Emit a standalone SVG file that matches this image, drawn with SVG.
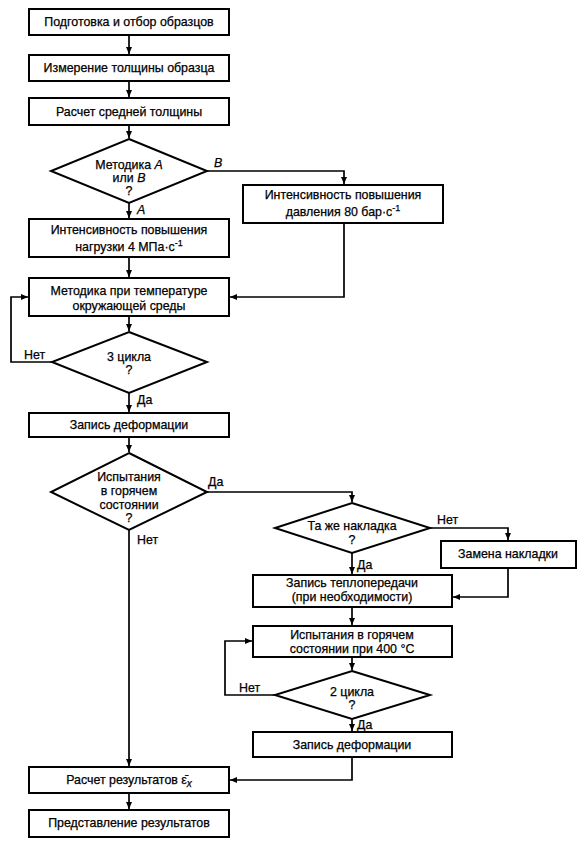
<svg xmlns="http://www.w3.org/2000/svg" width="586" height="844" viewBox="0 0 586 844">
<style>
.b{fill:#fff;stroke:#000;stroke-width:2}
.t{font-family:"Liberation Sans",Arial,sans-serif;font-size:12.4px;fill:#000;stroke:#000;stroke-width:0.25;text-anchor:middle}
.l{font-family:"Liberation Sans",Arial,sans-serif;font-size:12.4px;fill:#000;stroke:#000;stroke-width:0.25}
.c{fill:none;stroke:#000;stroke-width:1.7}
.i{font-style:italic}
</style>
<defs>
<marker id="a" markerUnits="userSpaceOnUse" markerWidth="8" markerHeight="6" refX="7" refY="3" orient="auto">
<path d="M0,0 L7,3 L0,6 z" fill="#000"/>
</marker>
</defs>
<rect width="586" height="844" fill="#fff"/>
<g id="connectors">
<path class="c" d="M129,35 V54" marker-end="url(#a)"/>
<path class="c" d="M129,81 V97" marker-end="url(#a)"/>
<path class="c" d="M129,125 V138" marker-end="url(#a)"/>
<path class="c" d="M129,203 V218" marker-end="url(#a)"/>
<path class="c" d="M207,171 H344 V184" marker-end="url(#a)"/>
<path class="c" d="M344,223 V297 H230" marker-end="url(#a)"/>
<path class="c" d="M129,257 V277" marker-end="url(#a)"/>
<path class="c" d="M129,316 V331" marker-end="url(#a)"/>
<path class="c" d="M52,362 H11 V297 H28" marker-end="url(#a)"/>
<path class="c" d="M129,393 V412" marker-end="url(#a)"/>
<path class="c" d="M129,437 V452" marker-end="url(#a)"/>
<path class="c" d="M207,492 H352 V502" marker-end="url(#a)"/>
<path class="c" d="M129,530 V766" marker-end="url(#a)"/>
<path class="c" d="M430,528 H508 V540" marker-end="url(#a)"/>
<path class="c" d="M508,568 V597 H453" marker-end="url(#a)"/>
<path class="c" d="M352,553 V574" marker-end="url(#a)"/>
<path class="c" d="M352,607 V625" marker-end="url(#a)"/>
<path class="c" d="M352,657 V670" marker-end="url(#a)"/>
<path class="c" d="M275,695 H225 V641 H252" marker-end="url(#a)"/>
<path class="c" d="M352,719 V731" marker-end="url(#a)"/>
<path class="c" d="M352,757 V780 H230" marker-end="url(#a)"/>
<path class="c" d="M129,793 V809" marker-end="url(#a)"/>
</g>
<g id="labels">
<text class="l i" x="214" y="167">B</text>
<text class="l i" x="137" y="214">A</text>
<text class="l" x="24" y="359">Нет</text>
<text class="l" x="137" y="404">Да</text>
<text class="l" x="208" y="486">Да</text>
<text class="l" x="137" y="544">Нет</text>
<text class="l" x="437" y="524">Нет</text>
<text class="l" x="357" y="569">Да</text>
<text class="l" x="239" y="692">Нет</text>
<text class="l" x="357" y="729">Да</text>
</g>
<g id="n1"><rect class="b" x="29" y="9" width="200" height="26"/><text class="t" x="129" y="26">Подготовка и отбор образцов</text></g>
<g id="n2"><rect class="b" x="29" y="55" width="200" height="26"/><text class="t" x="129" y="72">Измерение толщины образца</text></g>
<g id="n3"><rect class="b" x="29" y="98" width="200" height="27"/><text class="t" x="129" y="116">Расчет средней толщины</text></g>
<g id="d1"><polygon class="b" points="129,139 207,171 129,203 51,171"/>
<text class="t" x="129" y="169">Методика <tspan class="i">A</tspan></text>
<text class="t" x="129" y="182">или <tspan class="i">B</tspan></text>
<text class="t" x="129" y="195">?</text></g>
<g id="n4"><rect class="b" x="29" y="219" width="200" height="38"/>
<text class="t" x="129" y="234">Интенсивность повышения</text>
<text class="t" x="129" y="251">нагрузки 4 МПа·с<tspan font-size="9" dy="-5">-1</tspan></text></g>
<g id="n5"><rect class="b" x="243" y="185" width="200" height="38"/>
<text class="t" x="343" y="199">Интенсивность повышения</text>
<text class="t" x="343" y="216">давления 80 бар·с<tspan font-size="9" dy="-5">-1</tspan></text></g>
<g id="n6"><rect class="b" x="29" y="278" width="200" height="38"/>
<text class="t" x="129" y="295">Методика при температуре</text>
<text class="t" x="129" y="310">окружающей среды</text></g>
<g id="d2"><polygon class="b" points="129,332 207,362 129,393 52,362"/>
<text class="t" x="129" y="361">3 цикла</text>
<text class="t" x="129" y="374">?</text></g>
<g id="n7"><rect class="b" x="29" y="413" width="200" height="24"/><text class="t" x="129" y="429">Запись деформации</text></g>
<g id="d3"><polygon class="b" points="129,453 207,492 129,530 51,492"/>
<text class="t" x="129" y="481">Испытания</text>
<text class="t" x="129" y="495">в горячем</text>
<text class="t" x="129" y="509">состоянии</text>
<text class="t" x="129" y="522">?</text></g>
<g id="d4"><polygon class="b" points="352,503 430,528 352,553 275,528"/>
<text class="t" x="352" y="530">Та же накладка</text>
<text class="t" x="352" y="544">?</text></g>
<g id="n8"><rect class="b" x="441" y="541" width="135" height="27"/><text class="t" x="508" y="558">Замена накладки</text></g>
<g id="n9"><rect class="b" x="253" y="575" width="199" height="32"/>
<text class="t" x="352" y="587">Запись теплопередачи</text>
<text class="t" x="352" y="601">(при необходимости)</text></g>
<g id="n10"><rect class="b" x="253" y="626" width="199" height="31"/>
<text class="t" x="352" y="639">Испытания в горячем</text>
<text class="t" x="352" y="653">состоянии при 400 °C</text></g>
<g id="d5"><polygon class="b" points="352,671 430,695 352,719 275,695"/>
<text class="t" x="352" y="696">2 цикла</text>
<text class="t" x="352" y="709">?</text></g>
<g id="n11"><rect class="b" x="253" y="732" width="199" height="25"/><text class="t" x="352" y="749">Запись деформации</text></g>
<g id="n12"><rect class="b" x="29" y="767" width="200" height="26"/><text class="t" x="129" y="784">Расчет результатов ε&#x0304;<tspan class="i" font-size="10" dy="3">x</tspan></text></g>
<g id="n13"><rect class="b" x="29" y="810" width="200" height="27"/><text class="t" x="129" y="827">Представление результатов</text></g>
</svg>
